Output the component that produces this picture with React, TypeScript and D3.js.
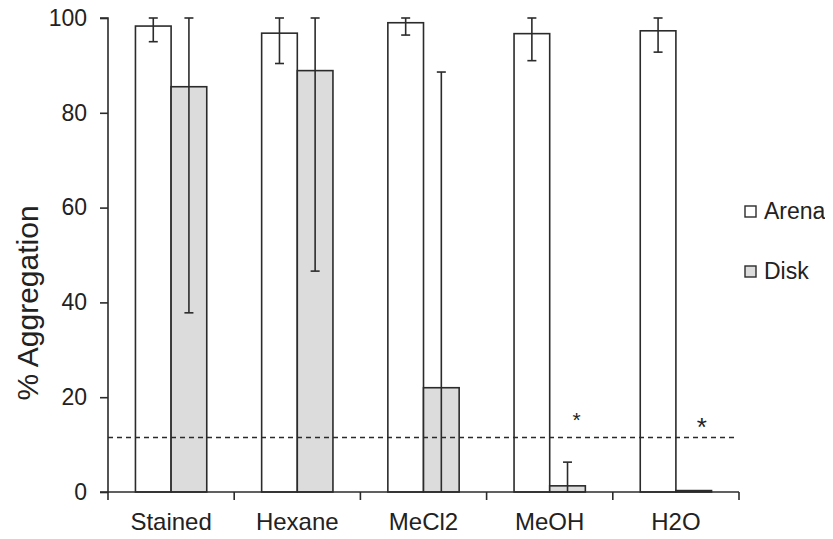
import React, { useEffect, useRef } from 'react';
import * as d3 from 'd3';

// data
const categories = ['Stained', 'Hexane', 'MeCl2', 'MeOH', 'H2O'];
const seriesNames = ['Arena', 'Disk'];
const arenaValues = [98.3, 96.8, 99.0, 96.7, 97.3];
const arenaErrors = [3.3, 6.4, 2.6, 5.7, 4.5];
const diskValues = [85.5, 88.9, 22.0, 1.3, 0.3];
const diskErrors = [47.7, 42.3, 66.6, 5.0, 0];
const yTicks = [0, 20, 40, 60, 80, 100];
const thresholdValue = 11.5;
const significant = [false, false, false, true, true];

const width = 833;
const height = 539;
const font = 'Liberation Sans, Arial, sans-serif';

const App = () => {
  const ref = useRef<SVGGElement | null>(null);

  useEffect(() => {
    const g = d3.select(ref.current);
    g.selectAll('*').remove();

    const margin = { top: 18, right: 94, bottom: 47, left: 108 };
    const innerW = width - margin.left - margin.right;
    const innerH = height - margin.top - margin.bottom;

    const x = d3.scaleBand().domain(categories).range([0, innerW]).padding(0);
    const groupW = x.bandwidth() * 0.565;
    const xs = d3
      .scaleBand()
      .domain(seriesNames)
      .range([(x.bandwidth() - groupW) / 2, (x.bandwidth() + groupW) / 2]);
    const y = d3.scaleLinear().domain([0, 100]).range([innerH, 0]);

    const root = g.append('g').attr('transform', `translate(${margin.left},${margin.top})`);

    const rows = categories.map((c, i) => [
      { cat: c, s: 'Arena', v: arenaValues[i], e: arenaErrors[i] },
      { cat: c, s: 'Disk', v: diskValues[i], e: diskErrors[i] },
    ]).flat();

    // bars
    root
      .selectAll('.bar')
      .data(rows)
      .enter()
      .append('rect')
      .attr('class', 'bar')
      .attr('x', d => (x(d.cat) as number) + (xs(d.s) as number))
      .attr('y', d => y(d.v))
      .attr('width', xs.bandwidth())
      .attr('height', d => innerH - y(d.v))
      .attr('fill', d => (d.s === 'Arena' ? '#ffffff' : '#dcdcdc'))
      .attr('stroke', '#2b2b2b')
      .attr('stroke-width', 1.6);

    // error bars (clipped to the axis range)
    const errRows = rows.filter(d => d.e > 0);
    const cx = d => (x(d.cat) as number) + (xs(d.s) as number) + xs.bandwidth() / 2;
    const hi = d => y(Math.min(100, d.v + d.e));
    const lo = d => y(Math.max(0, d.v - d.e));
    root
      .selectAll('.err')
      .data(errRows)
      .enter()
      .append('line')
      .attr('x1', cx)
      .attr('x2', cx)
      .attr('y1', hi)
      .attr('y2', lo)
      .attr('stroke', '#2b2b2b')
      .attr('stroke-width', 1.6);
    root
      .selectAll('.capTop')
      .data(errRows)
      .enter()
      .append('line')
      .attr('x1', d => cx(d) - 4.5)
      .attr('x2', d => cx(d) + 4.5)
      .attr('y1', hi)
      .attr('y2', hi)
      .attr('stroke', '#2b2b2b')
      .attr('stroke-width', 1.6);
    root
      .selectAll('.capBot')
      .data(errRows.filter(d => d.v - d.e > 0))
      .enter()
      .append('line')
      .attr('x1', d => cx(d) - 4.5)
      .attr('x2', d => cx(d) + 4.5)
      .attr('y1', lo)
      .attr('y2', lo)
      .attr('stroke', '#2b2b2b')
      .attr('stroke-width', 1.6);

    // threshold
    root
      .append('line')
      .attr('x1', 0)
      .attr('x2', innerW - 4)
      .attr('y1', y(thresholdValue))
      .attr('y2', y(thresholdValue))
      .attr('stroke', '#2b2b2b')
      .attr('stroke-width', 1.3)
      .attr('stroke-dasharray', '5,4');

    // asterisks
    root
      .selectAll('.star')
      .data(categories.filter((c, i) => significant[i]))
      .enter()
      .append('text')
      .attr('x', (c, i) => (x(c) as number) + (xs('Disk') as number) + xs.bandwidth() / 2 + (i === 0 ? 9 : 8))
      .attr('y', (c, i) => y(thresholdValue) - (i === 0 ? 10 : 1))
      .attr('text-anchor', 'middle')
      .attr('font-family', font)
      .attr('font-size', (c, i) => (i === 0 ? 21 : 26))
      .attr('fill', '#222')
      .text('*');

    // axes
    const yAxis = root
      .append('g')
      .call(d3.axisLeft(y).tickValues(yTicks).tickSize(8).tickPadding(13));
    const xAxis = root
      .append('g')
      .attr('transform', `translate(0,${innerH})`)
      .call(
        d3
          .axisBottom(x)
          .tickSize(0)
          .tickPadding(21)
      );
    // category boundary ticks
    root
      .selectAll('.xtick')
      .data(d3.range(categories.length + 1))
      .enter()
      .append('line')
      .attr('x1', i => i * x.bandwidth())
      .attr('x2', i => i * x.bandwidth())
      .attr('y1', innerH)
      .attr('y2', innerH + 8)
      .attr('stroke', '#2b2b2b')
      .attr('stroke-width', 1.6);

    [yAxis, xAxis].forEach(a => {
      a.select('.domain').attr('stroke', '#2b2b2b').attr('stroke-width', 1.6);
      a.selectAll('.tick line').attr('stroke', '#2b2b2b').attr('stroke-width', 1.6);
      a.selectAll('.tick text')
        .attr('fill', '#222')
        .attr('font-family', font);
    });
    yAxis.selectAll('.tick text').attr('font-size', 23);
    xAxis.selectAll('.tick text').attr('font-size', 24);
    yAxis.select('.domain').attr('d', `M-8,0H0V${innerH}H-8`);
    xAxis.select('.domain').attr('d', `M0,0H${innerW}`);

    // y title
    root
      .append('text')
      .attr('transform', `translate(${-70},${285}) rotate(-90)`)
      .attr('text-anchor', 'middle')
      .attr('font-family', font)
      .attr('font-size', 30)
      .attr('fill', '#222')
      .text('% Aggregation');

    // legend
    const legend = g
      .append('g')
      .attr('transform', `translate(${margin.left + innerW + 6},205)`)
      .selectAll('g')
      .data(seriesNames)
      .enter()
      .append('g')
      .attr('transform', (d, i) => `translate(0,${i * 60})`);
    legend
      .append('rect')
      .attr('width', 11)
      .attr('height', 11)
      .attr('y', 1)
      .attr('fill', d => (d === 'Arena' ? '#ffffff' : '#dcdcdc'))
      .attr('stroke', '#2b2b2b')
      .attr('stroke-width', 1.4);
    legend
      .append('text')
      .attr('x', 19)
      .attr('y', 14)
      .attr('font-family', font)
      .attr('font-size', 23)
      .attr('fill', '#222')
      .text(d => d);
  });

  return (
    <svg width={width} height={height} style={{ display: 'block', margin: '-8px' }}>
      <rect width={width} height={height} fill="#ffffff" />
      <g ref={ref} />
    </svg>
  );
};

export default App;
